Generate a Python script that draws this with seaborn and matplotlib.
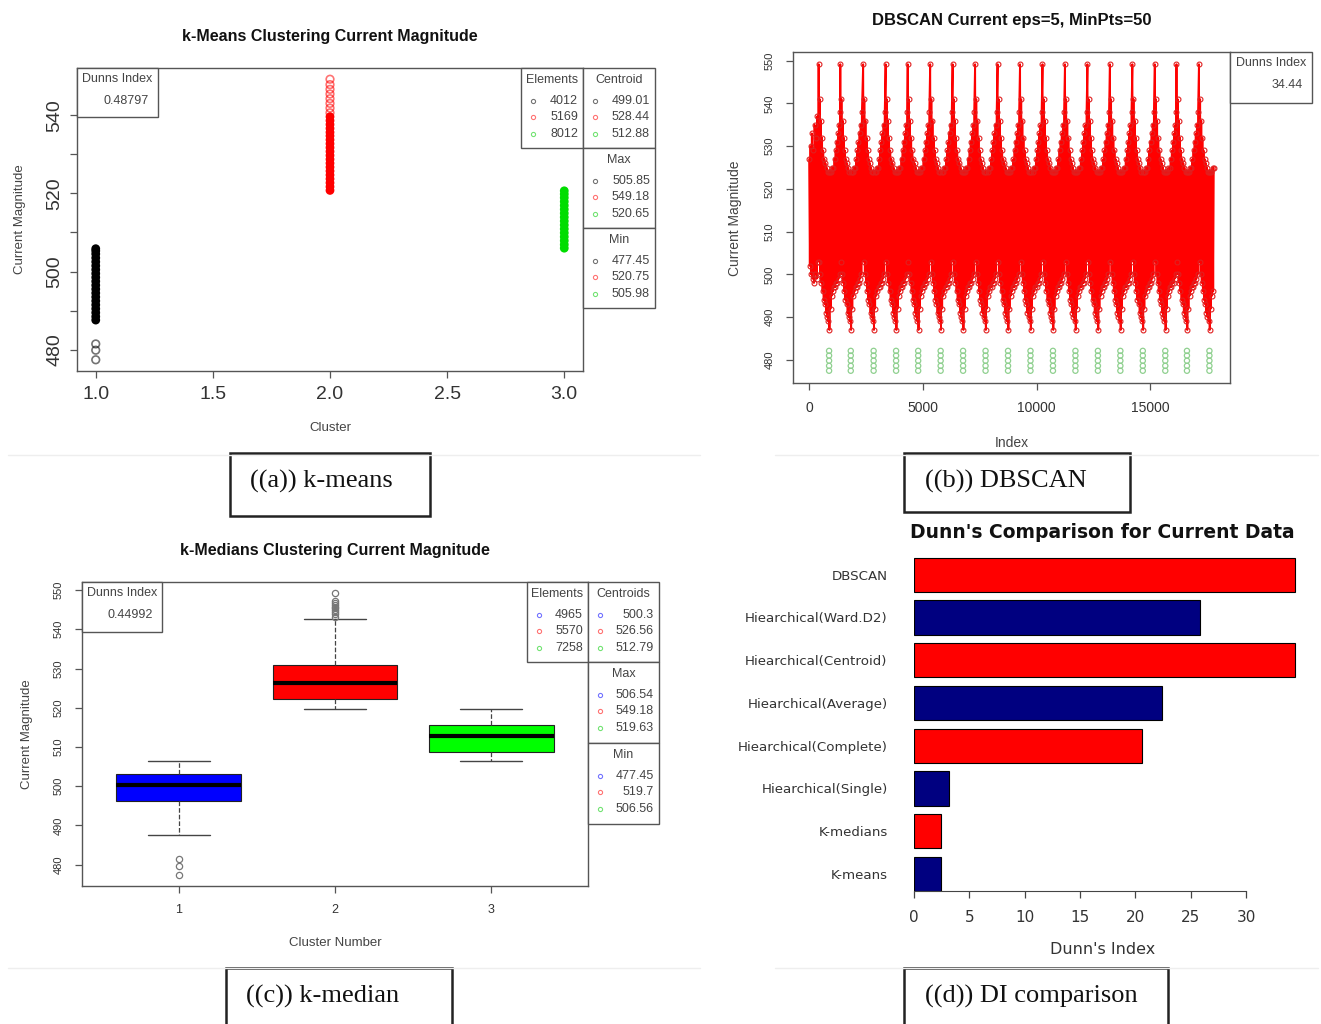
import numpy as np
import pandas as pd
import seaborn as sns
import matplotlib.pyplot as plt
from matplotlib.patches import Rectangle

W, H = 1321, 1024

# ---- (a) k-means: values read off the three strips
# solid part of each strip
km_cluster1 = [487.6, 488.5, 489.5, 490.5, 491.5, 492.5, 493.5, 494.5, 495.5, 496.5,
               497.5, 498.5, 499.5, 500.5, 501.5, 502.5, 503.5, 504.5, 505.3, 505.85]
km_cluster2 = [520.75, 521.7, 522.7, 523.7, 524.7, 525.7, 526.7, 527.7, 528.7, 529.7,
               530.7, 531.7, 532.7, 533.7, 534.7, 535.6, 536.6, 537.6, 538.6, 539.6]
km_cluster3 = [505.98, 506.9, 507.9, 508.9, 509.9, 510.9, 511.9, 512.9, 513.9, 514.9,
               515.9, 516.9, 517.9, 518.9, 519.8, 520.65]
# isolated points (drawn as open circles)
km_sparse1 = [477.45, 479.9, 481.5]
km_sparse2 = [540.6, 541.8, 543.0, 544.2, 545.4, 546.6, 547.8, 549.18]
km_colors = {1: 'black', 2: '#ff0000', 3: '#00dd00'}
km_elements = ['4012', '5169', '8012']
km_centroid = ['499.01', '528.44', '512.88']
km_max = ['505.85', '549.18', '520.65']
km_min = ['477.45', '520.75', '505.98']
km_dunn = '0.48797'

# ---- (b) DBSCAN: repeating pattern
db_n = 17793
db_peak_index = [416, 1369, 2374, 3362, 4333, 5321, 6308, 7296, 8284, 9272,
                 10260, 11248, 12236, 13224, 14211, 15199, 16152, 17140]
db_lead_offset = [0, 30, 60, 90, 120, 150, 180, 210, 240, 270, 300, 330, 360, 390]
db_lead_value = [527, 502, 530, 500, 533, 499, 529, 498, 535, 500, 532, 499, 537, 503]
db_cycle_offset = [0, 25, 50, 75, 100, 125, 150, 175, 200, 225, 250, 275, 300, 325, 350,
                   375, 400, 425, 450, 475, 500, 525, 550, 575, 600, 625, 650, 675, 700,
                   725, 750, 775, 800, 825, 850, 875, 900, 925, 950]
db_cycle_value = [549.18, 503, 541, 500, 536, 498, 532, 496, 529, 494, 527, 493, 526, 491,
                  525, 490, 524, 489, 524, 487, 524, 492, 524, 495, 525, 496, 525, 497,
                  527, 497, 529, 498, 531, 498, 533, 499, 535, 500, 538]
db_noise_offset = 460
db_noise_value = [477.45, 478.6, 479.8, 481.0, 482.1]
db_dunn = '34.44'

# ---- (c) k-medians box statistics
kmed_q1 = [496.3, 522.3, 508.8]
kmed_med = [500.3, 526.3, 512.79]
kmed_q3 = [503.2, 530.9, 515.7]
kmed_lo = [487.5, 519.7, 506.56]
kmed_hi = [506.54, 542.7, 519.63]
kmed_fliers = [[477.45, 479.6, 481.5],
               [543.2, 543.8, 544.3, 544.8, 545.3, 545.8, 546.3, 546.8, 547.3, 549.18],
               []]
kmed_colors = ['#0000ff', '#ff0000', '#00ff00']
kmed_elements = ['4965', '5570', '7258']
kmed_centroids = ['500.3', '526.56', '512.79']
kmed_max = ['506.54', '549.18', '519.63']
kmed_min = ['477.45', '519.7', '506.56']
kmed_dunn = '0.44992'

# ---- (d) Dunn's index comparison
methods = ['DBSCAN', 'Hiearchical(Ward.D2)', 'Hiearchical(Centroid)', 'Hiearchical(Average)',
           'Hiearchical(Complete)', 'Hiearchical(Single)', 'K-medians', 'K-means']
dunn_values = [34.44, 25.8, 34.44, 22.4, 20.6, 3.2, 2.4, 2.4]
bar_colors = ['#ff0000', '#000080', '#ff0000', '#000080', '#ff0000', '#000080', '#ff0000', '#000080']

sns.set_style('white')
plt.rcParams['font.family'] = ['Liberation Sans', 'DejaVu Sans']

fig = plt.figure(figsize=(W / 100, H / 100), dpi=100)


def px_axes(x0, y0, x1, y1, **kw):
    return fig.add_axes([x0 / W, 1 - y1 / H, (x1 - x0) / W, (y1 - y0) / H], **kw)


def r_frame(ax, pad_x, pad_y, fs_x, fs_y):
    for s in ax.spines.values():
        s.set_visible(True)
        s.set_color('#555555')
        s.set_linewidth(1.0)
    ax.tick_params(bottom=True, left=True, direction='out', length=5, width=0.9,
                   color='#555555', labelcolor='#333333')
    ax.tick_params(axis='x', pad=pad_x, labelsize=fs_x)
    ax.tick_params(axis='y', pad=pad_y, labelsize=fs_y, labelrotation=90)
    for lab in ax.get_yticklabels():
        lab.set_va('center')
    ax.set_xlabel('')
    ax.set_ylabel('')


# ---------------- (a)
ax_a = px_axes(77, 68, 583, 371)
df_a = pd.DataFrame({
    'cluster': [1] * len(km_cluster1) + [2] * len(km_cluster2) + [3] * len(km_cluster3),
    'value': km_cluster1 + km_cluster2 + km_cluster3,
})
df_a2 = pd.DataFrame({
    'cluster': [1] * len(km_sparse1) + [2] * len(km_sparse2),
    'value': km_sparse1 + km_sparse2,
})
sns.scatterplot(data=df_a, x='cluster', y='value', hue='cluster', palette=km_colors,
                s=40, linewidth=0, legend=False, ax=ax_a)
sns.scatterplot(data=df_a2, x='cluster', y='value', hue='cluster', palette=km_colors,
                s=30, linewidth=1.2, legend=False, ax=ax_a)
coll = ax_a.collections[1]
ec = coll.get_facecolors()
ec[:, 3] = 0.55
coll.set_edgecolors(ec)
coll.set_facecolors('none')
ax_a.set_xlim(0.92, 3.08)
ax_a.set_ylim(474.58, 552.05)
ax_a.set_xticks([1.0, 1.5, 2.0, 2.5, 3.0], ['1.0', '1.5', '2.0', '2.5', '3.0'])
ax_a.set_yticks([480, 490, 500, 510, 520, 530, 540], ['480', '', '500', '', '520', '', '540'])
r_frame(ax_a, 5.5, 5, 14, 14)

# ---------------- (b)
idx, val = [], []
for o, v in zip(db_lead_offset, db_lead_value):
    idx.append(o)
    val.append(v)
for p in db_peak_index:
    for o, v in zip(db_cycle_offset, db_cycle_value):
        if p + o <= db_n:
            idx.append(p + o)
            val.append(v)
noise_x, noise_y = [], []
for p in db_peak_index:
    for v in db_noise_value:
        noise_x.append(p + db_noise_offset)
        noise_y.append(v)

ax_b = px_axes(793, 52, 1230, 383)
sns.lineplot(x=idx, y=val, color='#ff0000', lw=1.4, marker='o', ms=3.5, mfc='none',
             mec='#e02020', mew=0.8, estimator=None, sort=False, ax=ax_b)
sns.scatterplot(x=noise_x, y=noise_y, s=14, facecolor='none', edgecolor='#8fd08f',
                linewidth=0.9, legend=False, ax=ax_b)
ax_b.set_xlim(-711, 18505)
ax_b.set_ylim(474.58, 552.05)
ax_b.set_xticks([0, 5000, 10000, 15000], ['0', '5000', '10000', '15000'])
ax_b.set_yticks(list(range(480, 551, 10)), [str(t) for t in range(480, 551, 10)])
r_frame(ax_b, 8, 8, 10, 8)

# ---------------- (c)
ax_c = px_axes(82, 582, 588, 886)
stats = []
for k in range(3):
    stats.append(dict(med=kmed_med[k], q1=kmed_q1[k], q3=kmed_q3[k], whislo=kmed_lo[k],
                      whishi=kmed_hi[k], fliers=kmed_fliers[k]))
bp = ax_c.bxp(stats, positions=[1, 2, 3], widths=0.8, capwidths=0.4, patch_artist=True,
              boxprops=dict(edgecolor='#222222', linewidth=0.8),
              medianprops=dict(color='black', linewidth=3),
              whiskerprops=dict(color='#444444', linestyle='--', linewidth=0.9),
              capprops=dict(color='#444444', linewidth=1.0),
              flierprops=dict(marker='o', mfc='none', mec='#777777', ms=4.5, mew=0.9))
for patch, c in zip(bp['boxes'], kmed_colors):
    patch.set_facecolor(c)
ax_c.set_xlim(0.38, 3.62)
ax_c.set_ylim(474.58, 552.05)
ax_c.set_xticks([1, 2, 3], ['1', '2', '3'])
ax_c.set_yticks(list(range(480, 551, 10)), [str(t) for t in range(480, 551, 10)])
r_frame(ax_c, 8, 8, 9, 8)

# ---------------- (d)
ax_d = px_axes(914, 549, 1310, 891)
sns.barplot(x=dunn_values, y=methods, hue=methods, palette=bar_colors, orient='h',
            width=0.8, saturation=1, edgecolor='black', linewidth=0.8, legend=False, ax=ax_d)
ax_d.set_xlim(0, 35.78)
ax_d.set_ylim(7.4, -0.6)
for s in ['top', 'right', 'left']:
    ax_d.spines[s].set_visible(False)
ax_d.spines['bottom'].set_bounds(0, 30)
ax_d.spines['bottom'].set_color('#444444')
ax_d.set_xticks([0, 5, 10, 15, 20, 25, 30])
ax_d.tick_params(axis='x', bottom=True, direction='out', length=5, width=0.9,
                 color='#444444', pad=9, labelsize=11, labelcolor='#333333')
ax_d.tick_params(axis='y', left=False, length=0, pad=19, labelsize=9.6, labelcolor='#333333')
for lab in ax_d.get_xticklabels() + ax_d.get_yticklabels():
    lab.set_family('DejaVu Sans')
ax_d.set_xlabel('')
ax_d.set_ylabel('')

# ---------------- overlay: titles, labels, stat boxes, captions
ov = px_axes(0, 0, W, H, zorder=10)
ov.set_xlim(0, W)
ov.set_ylim(H, 0)
ov.axis('off')
ov.patch.set_alpha(0)

lt = dict(fontsize=9, color='#444444')


def dunn_box(x0, y0, x1, y1, value):
    ov.add_patch(Rectangle((x0, y0), x1 - x0, y1 - y0, fc='white', ec='#555555', lw=1))
    ov.text((x0 + x1) / 2, y0 + 11, 'Dunns Index', ha='center', va='center', **lt)
    ov.text(x1 - 9, y0 + 33, value, ha='right', va='center', **lt)


def stat_box(x0, y0, x1, y1, title, values, colors):
    ov.add_patch(Rectangle((x0, y0), x1 - x0, y1 - y0, fc='white', ec='#555555', lw=1))
    ov.text((x0 + x1) / 2, y0 + 12, title, ha='center', va='center', **lt)
    for k, (v, c) in enumerate(zip(values, colors)):
        yy = y0 + 33 + 16.3 * k
        ov.plot([x0 + 12], [yy], marker='o', ms=3, mfc='none', mec=c, mew=0.8, alpha=0.55)
        ov.text(x1 - 5, yy, v, ha='right', va='center', **lt)


km_c = ['black', '#ff0000', '#00cc00']
dunn_box(77, 68, 158, 117, km_dunn)
stat_box(521, 68, 583, 148, 'Elements', km_elements, km_c)
stat_box(583, 68, 655, 148, 'Centroid', km_centroid, km_c)
stat_box(583, 148, 655, 228, 'Max', km_max, km_c)
stat_box(583, 228, 655, 308, 'Min', km_min, km_c)

dunn_box(1230, 52, 1312, 103, db_dunn)

kmed_c = ['#0000ff', '#ff0000', '#00cc00']
dunn_box(82, 582, 162, 632, kmed_dunn)
stat_box(527, 582, 588, 662, 'Elements', kmed_elements, kmed_c)
stat_box(588, 582, 659, 662, 'Centroids', kmed_centroids, kmed_c)
stat_box(588, 662, 659, 743, 'Max', kmed_max, kmed_c)
stat_box(588, 743, 659, 824, 'Min', kmed_min, kmed_c)

# titles
ov.text(330, 36, 'k-Means Clustering Current Magnitude', ha='center', va='center',
        fontsize=11.5, fontweight='bold', color='#111111')
ov.text(1012, 20, 'DBSCAN Current eps=5, MinPts=50', ha='center', va='center',
        fontsize=12, fontweight='bold', color='#111111')
ov.text(335, 551, 'k-Medians Clustering Current Magnitude', ha='center', va='center',
        fontsize=11.5, fontweight='bold', color='#111111')
ov.text(1102, 532, "Dunn's Comparison for Current Data", ha='center', va='center',
        fontsize=13.5, fontweight='bold', family='DejaVu Sans', color='#111111')

# axis labels
al = dict(fontsize=9.5, color='#444444', ha='center', va='center')
ov.text(330, 428, 'Cluster', **al)
ov.text(20, 219, 'Current Magnitude', rotation=90, **al)
ov.text(1012, 443, 'Index', **dict(al, fontsize=10))
ov.text(735, 218, 'Current Magnitude', rotation=90, **dict(al, fontsize=10))
ov.text(335, 943, 'Cluster Number', **al)
ov.text(27, 734, 'Current Magnitude', rotation=90, **al)
ov.text(1103, 950, "Dunn's Index", ha='center', va='center', fontsize=11.5,
        family='DejaVu Sans', color='#333333')

# faint separators between sub-figures
for yy in [455, 968]:
    ov.plot([8, 700], [yy, yy], color='#eeeeee', lw=1)
    ov.plot([775, 1318], [yy, yy], color='#eeeeee', lw=1)

# captions
cap = dict(fontsize=19, family='Liberation Serif', color='#111111', ha='left', va='center')
for (x0, y0, x1, y1), s, tx, ty in [((230, 453, 430, 516), '((a)) k-means', 250, 481),
                                    ((904, 453, 1130, 512), '((b)) DBSCAN', 925, 481),
                                    ((226, 968, 452, 1030), '((c)) k-median', 246, 996),
                                    ((904, 968, 1168, 1030), '((d)) DI comparison', 925, 996)]:
    ov.add_patch(Rectangle((x0, y0), x1 - x0, y1 - y0, fc='white', ec='#222222', lw=1.8))
    ov.text(tx, ty, s, **cap)

ov.set_xlim(0, W)
ov.set_ylim(H, 0)

fig.savefig('out.png', dpi=100)
